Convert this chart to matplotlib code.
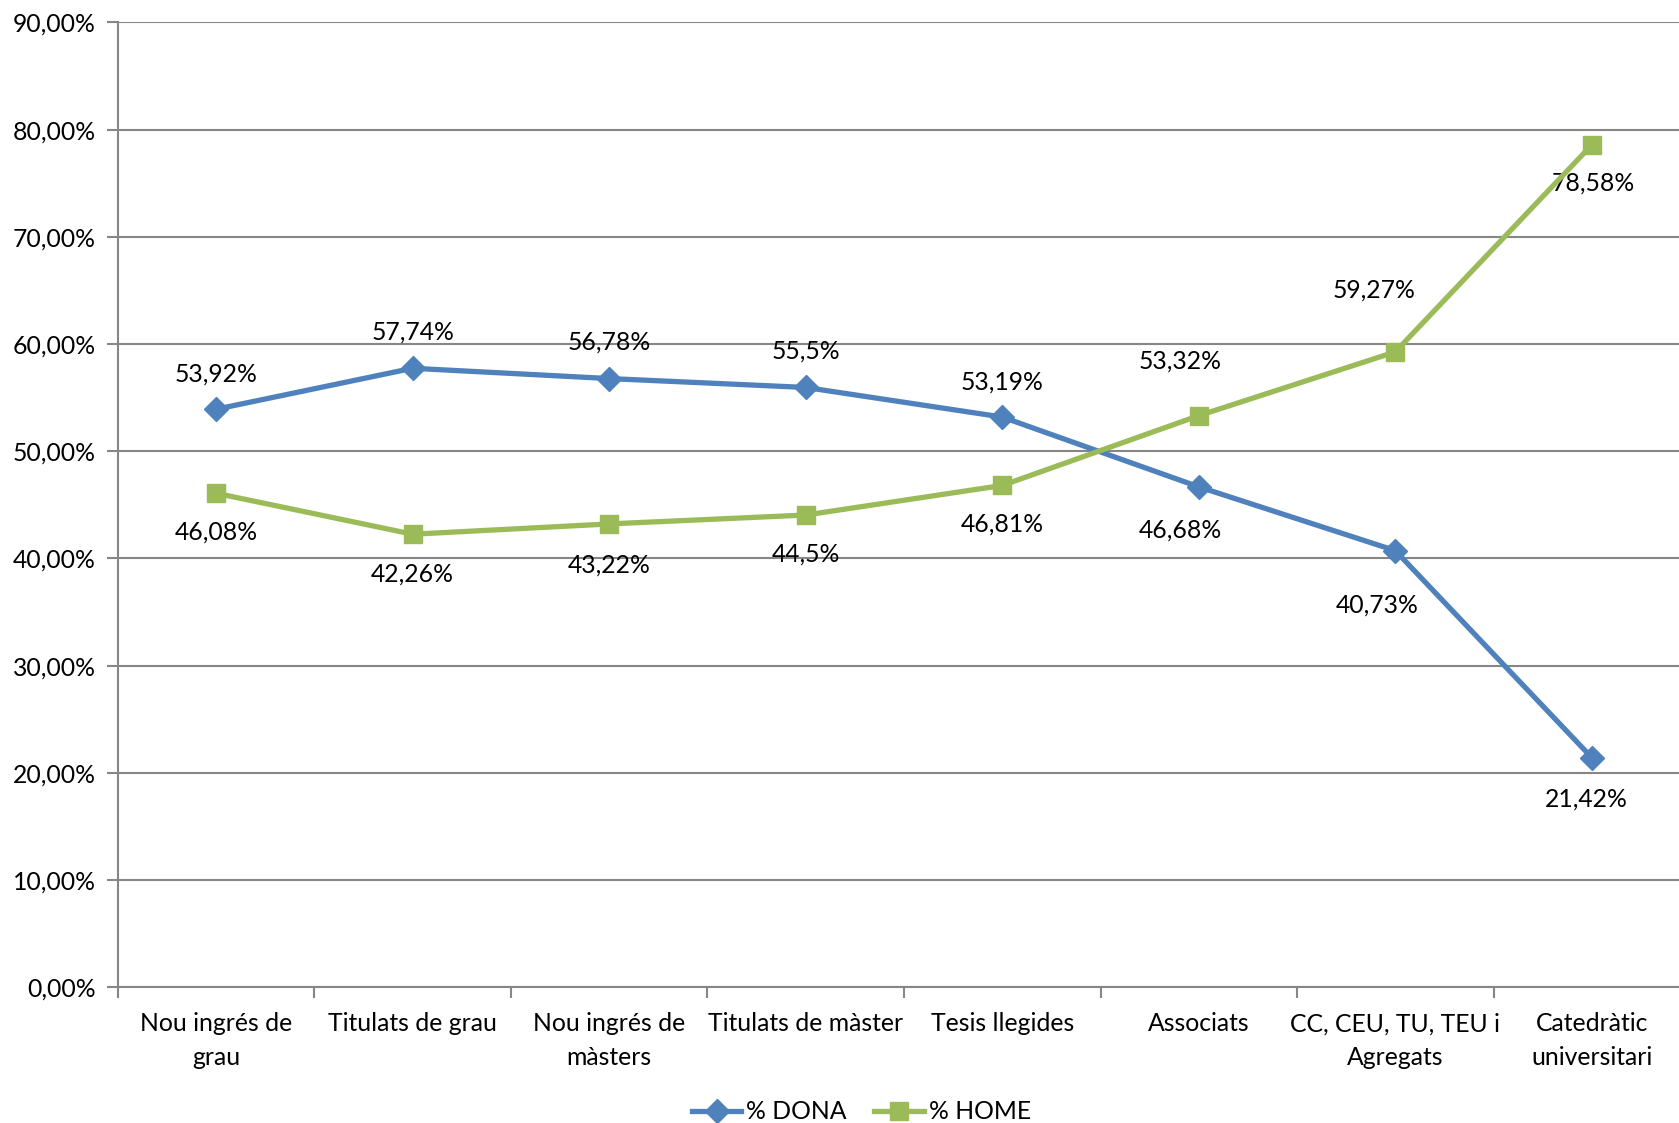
import matplotlib
matplotlib.use("Agg")
import matplotlib.pyplot as plt
from matplotlib.lines import Line2D

categories = ["Nou ingrés de\ngrau", "Titulats de grau", "Nou ingrés de\nmàsters",
              "Titulats de màster", "Tesis llegides", "Associats",
              "CC, CEU, TU, TEU i\nAgregats", "Catedràtic\nuniversitari"]
dona = [53.92, 57.74, 56.78, 55.95, 53.19, 46.68, 40.73, 21.42]
home = [46.08, 42.26, 43.22, 44.05, 46.81, 53.32, 59.27, 78.58]
dona_labels = ["53,92%", "57,74%", "56,78%", "55,5%", "53,19%", "46,68%", "40,73%", "21,42%"]
home_labels = ["46,08%", "42,26%", "43,22%", "44,5%", "46,81%", "53,32%", "59,27%", "78,58%"]
yticks = [0, 10, 20, 30, 40, 50, 60, 70, 80, 90]

plt.rcParams['font.family'] = ['Lato', 'DejaVu Sans']
FS = 17.8

fig = plt.figure(figsize=(16.79, 11.23), dpi=100)
ax = fig.add_axes([0.0702, 0.1209, 0.9364, 0.8591])

blue = "#4F81BD"
green = "#9BBB59"
grid = "#868686"

x = list(range(len(categories)))
ax.plot(x, dona, color=blue, lw=3.8, marker="D", ms=12, mfc=blue, mec=blue, zorder=4, clip_on=False)
ax.plot(x, home, color=green, lw=3.8, marker="s", ms=13, mfc=green, mec=green, zorder=4, clip_on=False)

# label offsets (pixels in reference, converted to points)
k = 0.771
d_off = [(0, -33), (0, -34), (0, -34), (0, -34), (0, -33), (-17, 40), (-17, 51), (-5, 39)]
h_off = [(0, 36), (0, 37), (0, 38), (0, 36), (0, 36), (-17, -51), (-20, -58), (1, 36)]
for i in x:
    ax.annotate(dona_labels[i], (i, dona[i]), xytext=(d_off[i][0] * k, -d_off[i][1] * k),
                textcoords="offset points", ha="center", va="center", fontsize=FS, color="black")
    ax.annotate(home_labels[i], (i, home[i]), xytext=(h_off[i][0] * k, -h_off[i][1] * k),
                textcoords="offset points", ha="center", va="center", fontsize=FS, color="black")

ax.set_xlim(-0.5, len(categories) - 0.5)
ax.set_ylim(0, 90)
ax.set_yticks(yticks)
ax.set_yticklabels([f"{v},00%" for v in yticks], fontsize=FS)
ax.yaxis.grid(True, color=grid, lw=1.5)
ax.set_axisbelow(True)

ax.set_xticks([i + 0.5 for i in range(-1, len(categories))], minor=False)
ax.set_xticklabels([])
ax.set_xticks(x, minor=True)
ax.set_xticklabels(categories, minor=True, fontsize=FS, linespacing=1.55)
ax.tick_params(axis="x", which="major", length=8, width=1.5, color=grid, direction="out")
ax.tick_params(axis="x", which="minor", length=0, pad=18)
ax.tick_params(axis="y", length=8, width=1.5, color=grid, direction="out", pad=8)

for s in ["top", "right"]:
    ax.spines[s].set_visible(False)
for s in ["left", "bottom"]:
    ax.spines[s].set_color(grid)
    ax.spines[s].set_linewidth(1.5)

handles = [Line2D([], [], color=blue, lw=3.8, marker="D", ms=12),
           Line2D([], [], color=green, lw=3.8, marker="s", ms=13)]
fig.legend(handles, ["% DONA", "% HOME"], loc="center", bbox_to_anchor=(0.513, 0.01),
           ncol=2, frameon=False, fontsize=FS, handlelength=2.0, handletextpad=0.2,
           columnspacing=1.1)

fig.savefig("out.png", dpi=100)
